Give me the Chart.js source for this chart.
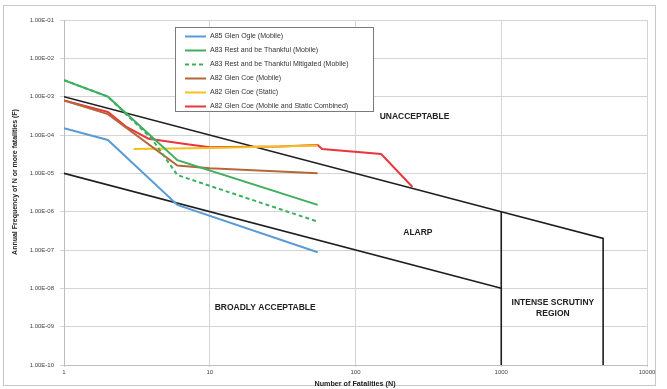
<!DOCTYPE html>
<html>
<head>
<meta charset="utf-8">
<title>F-N Curve</title>
<script src="https://cdn.jsdelivr.net/npm/chart.js@4.4.1/dist/chart.umd.min.js"></script>
<style>
    html, body { margin: 0; padding: 0; background: #fff; }
    canvas { display: block; }
</style>
</head>
<body>
<canvas id="fnChart" width="667" height="389"></canvas>
<script>
// ========== F-N chart data ==========
// tick values
const xTicks = [1, 10, 100, 1000, 10000];
const yTicks = [1e-1, 1e-2, 1e-3, 1e-4, 1e-5, 1e-6, 1e-7, 1e-8, 1e-9, 1e-10];

// series labels
const seriesLabels = [
    'A85 Glen Ogle (Mobile)',
    'A83 Rest and be Thankful (Mobile)',
    'A83 Rest and be Thankful Mitigated (Mobile)',
    'A82 Glen Coe (Mobile)',
    'A82 Glen Coe (Static)',
    'A82 Glen Coe (Mobile and Static Combined)'
];

// N = fatalities, F = annual frequency
const glenOgleN = [1, 2, 6, 55];
const glenOgleF = [1.5e-4, 7.4e-5, 1.5e-6, 8.7e-8];

const restN = [1, 2, 6, 55];
const restF = [2.7e-3, 1.0e-3, 2.2e-5, 1.5e-6];

const restMitN = [1, 2, 4, 6, 55];
const restMitF = [2.7e-3, 1.0e-3, 8.0e-5, 9.0e-6, 5.5e-7];

const coeMobileN = [1, 2, 6, 10, 55];
const coeMobileF = [8.0e-4, 3.5e-4, 1.6e-5, 1.35e-5, 1.0e-5];

const coeStaticN = [3, 10, 55];
const coeStaticF = [4.3e-5, 4.6e-5, 5.3e-5];

const coeCombN = [1, 2, 2.7, 3.8, 7, 10, 30, 55, 59, 150, 246];
const coeCombF = [8.0e-4, 4.0e-4, 1.6e-4, 8.0e-5, 5.7e-5, 4.8e-5, 5.0e-5, 5.5e-5, 4.3e-5, 3.2e-5, 4.4e-6];

// criterion lines (upper / lower / intense scrutiny)
const upperN = [1, 1000, 5000, 5000];
const upperF = [1e-3, 1e-6, 2e-7, 1e-10];
const scrutinyN = [1000, 1000];
const scrutinyF = [1e-6, 1e-10];
const lowerN = [1, 1000];
const lowerF = [1e-5, 1e-8];

// region labels (anchored to data coords)
const regionText = ['UNACCEPTABLE', 'ALARP', 'BROADLY ACCEPTABLE', 'INTENSE SCRUTINY', 'REGION'];
const regionN = [254, 268, 24, 2260, 2260];
const regionF = [3.0e-4, 2.8e-7, 3.2e-9, 4.2e-9, 2.2e-9];

const seriesColors = ['#5b9bd5', '#3fae5f', '#3fae5f', '#b5673a', '#f2c21b', '#e8373d'];
const FONT = '"Liberation Sans", Arial, sans-serif';

function toPoints(xs, ys) {
    const pts = [];
    for (let i = 0; i < xs.length; i++) {
        pts.push({ x: xs[i], y: ys[i] });
    }
    return pts;
}

function formatExp(v) {
    const e = Math.round(Math.log10(v));
    const sign = e < 0 ? '-' : '+';
    const abs = Math.abs(e);
    return '1.00E' + sign + (abs < 10 ? '0' + abs : abs);
}

function seriesDataset(i, xs, ys, dashed) {
    return {
        label: seriesLabels[i],
        data: toPoints(xs, ys),
        borderColor: seriesColors[i],
        backgroundColor: seriesColors[i],
        borderWidth: 2,
        borderDash: dashed ? [4, 3] : [],
        pointRadius: 0,
        showLine: true,
        tension: 0
    };
}

function boundaryDataset(xs, ys) {
    return {
        label: '',
        data: toPoints(xs, ys),
        borderColor: '#1e1e1e',
        borderWidth: 1.6,
        pointRadius: 0,
        showLine: true,
        tension: 0
    };
}

// 바깥 테두리 + 배경
const framePlugin = {
    id: 'frame',
    beforeDraw(chart) {
        const ctx = chart.ctx;
        ctx.save();
        ctx.fillStyle = '#fff';
        ctx.fillRect(0, 0, chart.width, chart.height);
        ctx.strokeStyle = '#c8c8c8';
        ctx.lineWidth = 1;
        ctx.strokeRect(3.5, 5.5, 652, 380);
        ctx.restore();
    }
};

// 영역 라벨, 축 제목, 범례
const overlayPlugin = {
    id: 'overlay',
    afterDatasetsDraw(chart) {
        const ctx = chart.ctx;
        const xs = chart.scales.x;
        const ys = chart.scales.y;
        ctx.save();

        // region labels
        ctx.fillStyle = '#222';
        ctx.font = 'bold 8.5px ' + FONT;
        ctx.textAlign = 'center';
        ctx.textBaseline = 'middle';
        for (let i = 0; i < regionText.length; i++) {
            ctx.fillText(regionText[i], xs.getPixelForValue(regionN[i]), ys.getPixelForValue(regionF[i]));
        }

        // axis titles
        ctx.font = 'bold 7.2px ' + FONT;
        ctx.fillStyle = '#222';
        ctx.fillText('Number of Fatalities (N)', 355, 384);
        ctx.save();
        ctx.translate(15, 182);
        ctx.rotate(-Math.PI / 2);
        ctx.font = 'bold 7px ' + FONT;
        ctx.fillText('Annual Frequency of N or more fatalities (F)', 0, 0);
        ctx.restore();

        // legend box
        const lx = 175, ly = 27, lw = 198, lh = 84;
        ctx.fillStyle = '#fff';
        ctx.fillRect(lx, ly, lw, lh);
        ctx.strokeStyle = '#7a7a7a';
        ctx.lineWidth = 1;
        ctx.strokeRect(lx + 0.5, ly + 0.5, lw, lh);
        ctx.font = '7px ' + FONT;
        ctx.textAlign = 'left';
        for (let i = 0; i < seriesLabels.length; i++) {
            const y = 36 + i * 14;
            const ds = chart.data.datasets[i];
            ctx.strokeStyle = ds.borderColor;
            ctx.lineWidth = 2;
            ctx.setLineDash(ds.borderDash || []);
            ctx.beginPath();
            ctx.moveTo(185, y + 0.5);
            ctx.lineTo(206, y + 0.5);
            ctx.stroke();
            ctx.setLineDash([]);
            ctx.fillStyle = '#333';
            ctx.fillText(seriesLabels[i], 210, y + 0.5);
        }
        ctx.restore();
    }
};

const datasets = [
    seriesDataset(0, glenOgleN, glenOgleF, false),
    seriesDataset(1, restN, restF, false),
    seriesDataset(2, restMitN, restMitF, true),
    seriesDataset(3, coeMobileN, coeMobileF, false),
    seriesDataset(4, coeStaticN, coeStaticF, false),
    seriesDataset(5, coeCombN, coeCombF, false),
    boundaryDataset(upperN, upperF),
    boundaryDataset(scrutinyN, scrutinyF),
    boundaryDataset(lowerN, lowerF)
];

new Chart(document.getElementById('fnChart'), {
    type: 'scatter',
    data: { datasets: datasets },
    options: {
        responsive: false,
        animation: false,
        layout: { padding: { top: 20, right: 20, left: 0, bottom: 0 } },
        plugins: {
            legend: { display: false },
            tooltip: { enabled: false }
        },
        scales: {
            x: {
                type: 'logarithmic',
                min: 1,
                max: 10000,
                afterBuildTicks(scale) {
                    scale.ticks = xTicks.map(v => ({ value: v }));
                },
                afterFit(scale) { scale.height = 24; },
                grid: { color: '#d4d4d4', lineWidth: 1, tickLength: 2 },
                border: { color: '#bdbdbd' },
                ticks: {
                    autoSkip: false,
                    maxRotation: 0,
                    padding: 2,
                    color: '#444',
                    font: { family: FONT, size: 6 },
                    callback: v => String(v)
                }
            },
            y: {
                type: 'logarithmic',
                min: 1e-10,
                max: 1e-1,
                afterBuildTicks(scale) {
                    scale.ticks = yTicks.map(v => ({ value: v }));
                },
                afterFit(scale) { scale.width = 64; },
                grid: { color: '#d4d4d4', lineWidth: 1, tickLength: 4 },
                border: { color: '#bdbdbd' },
                ticks: {
                    autoSkip: false,
                    padding: 6,
                    color: '#444',
                    font: { family: FONT, size: 6 },
                    callback: v => formatExp(v)
                }
            }
        }
    },
    plugins: [framePlugin, overlayPlugin]
});
</script>
</body>
</html>
